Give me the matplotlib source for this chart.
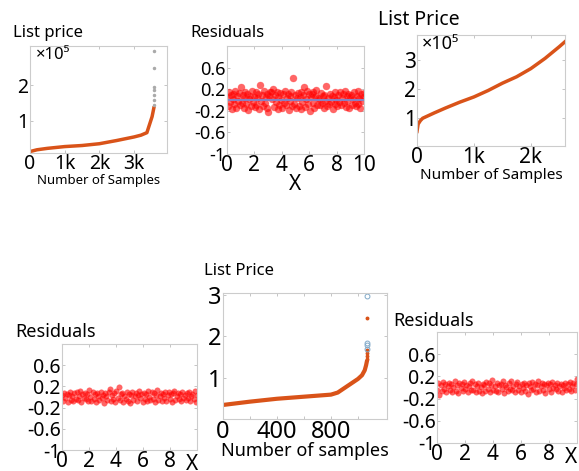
import numpy as np
import matplotlib
matplotlib.use('Agg')
import matplotlib.pyplot as plt

plt.rcParams['font.family'] = ['Noto Sans', 'DejaVu Sans']

# --- data ---
# top-left: sorted list price (x in samples, y in 1e5)
p1_x = [0, 200, 500, 1000, 1500, 2000, 2500, 3000, 3200, 3370, 3460, 3520, 3570]
p1_y = [0.14, 0.19, 0.23, 0.28, 0.31, 0.36, 0.45, 0.55, 0.60, 0.67, 0.94, 1.12, 1.36]
p1_out = [1.44, 1.58, 1.72, 1.86, 1.94, 2.47, 2.97]

# top-right: sorted list price
p3_x = [0, 20, 60, 100, 300, 500, 750, 1000, 1250, 1500, 1750, 2000, 2250, 2500, 2600]
p3_y = [0.55, 0.80, 0.92, 1.00, 1.18, 1.35, 1.55, 1.73, 1.95, 2.20, 2.42, 2.70, 3.05, 3.45, 3.62]

# bottom-middle: sorted list price
p5_x = [0, 200, 400, 600, 800, 850, 900, 950, 1000, 1030, 1050, 1060, 1065]
p5_y = [0.34, 0.42, 0.49, 0.54, 0.59, 0.64, 0.75, 0.86, 0.97, 1.06, 1.18, 1.30, 1.38]
p5_out_orange = [1.45, 1.52, 1.60, 1.68, 2.45]
p5_out_blue = [1.70, 1.78, 1.83, 2.98]

# residuals (top-middle)
res_top = [0.05, -0.12, 0.14, -0.03, 0.09, -0.16, 0.11, 0.02, -0.08, 0.16,
           -0.14, 0.07, -0.01, 0.13, -0.10, 0.25, -0.05, 0.10, -0.15, 0.04,
           0.15, -0.07, 0.12, -0.18, 0.01, 0.08, -0.12, 0.17, -0.04, 0.06,
           -0.13, 0.14, -0.09, 0.03, 0.11, -0.16, 0.28, -0.02, 0.09, -0.11,
           0.16, -0.06, 0.05, -0.14, 0.12, -0.22, 0.07, 0.15, 0.15, 0.02,
           0.20, -0.13, 0.10, -0.03, 0.14, -0.17, 0.06, -0.10, 0.13, 0.00,
           -0.15, 0.11, -0.05, 0.17, -0.09, 0.04, 0.12, -0.19, 0.08, -0.02,
           0.15, -0.12, 0.40, -0.07, 0.10, -0.14, 0.03, 0.13, -0.11, 0.06,
           -0.16, 0.14, -0.04, 0.09, 0.24, -0.13, 0.01, 0.16, -0.08, 0.11,
           -0.21, 0.05, 0.12, -0.06, 0.15, -0.15, 0.08, 0.18, -0.10, 0.04,
           0.02, -0.09, 0.13, -0.05, 0.07, -0.14, 0.10, -0.01, 0.26, -0.11,
           0.04, -0.07, 0.12, -0.03, 0.08, -0.17, 0.06, 0.14, -0.08, 0.00,
           -0.12, 0.09, -0.04, 0.15, -0.10, 0.03, 0.11, -0.06, 0.17, -0.13,
           0.07, -0.02, 0.12, -0.15, 0.05, 0.10, -0.09, 0.01, 0.14, -0.05,
           -0.11, 0.08, 0.16, -0.07, 0.03, -0.14, 0.11, -0.02, 0.06, 0.13]
fit_x = [0, 10]
fit_y = [0, 0]

# residuals (bottom-left)
res_bl = [0.03, -0.07, 0.08, -0.02, 0.06, -0.09, 0.04, 0.10, -0.05, 0.01,
          -0.08, 0.07, -0.03, 0.09, -0.06, 0.02, 0.11, -0.10, 0.05, -0.01,
          0.08, -0.04, 0.06, -0.08, 0.13, 0.00, -0.07, 0.09, -0.03, 0.05,
          -0.09, 0.07, 0.02, -0.06, 0.10, -0.02, 0.04, -0.11, 0.08, 0.01,
          -0.05, 0.09, 0.15, -0.08, 0.03, -0.04, 0.07, -0.09, 0.11, -0.01,
          0.19, -0.06, 0.05, 0.08, -0.10, 0.02, -0.03, 0.09, -0.07, 0.06,
          -0.12, 0.04, 0.10, -0.05, 0.01, 0.07, -0.08, 0.03, 0.12, -0.02,
          0.06, -0.09, 0.08, -0.04, 0.05, -0.07, 0.11, 0.00, -0.06, 0.09,
          -0.03, 0.07, -0.10, 0.04, 0.13, -0.05, 0.02, 0.08, -0.08, 0.06,
          -0.01, 0.10, -0.07, 0.03, 0.09, -0.04, 0.05, -0.09, 0.07, 0.12,
          -0.06, 0.02, 0.08, -0.03, 0.05, -0.08, 0.10, -0.01, 0.04, -0.05,
          0.07, -0.02, 0.09, -0.07, 0.01, 0.06, -0.04, 0.11, -0.09, 0.03]

# residuals (bottom-right)
res_br = [-0.04, 0.08, -0.13, 0.05, -0.07, 0.10, -0.02, 0.06, -0.09, 0.03,
          0.09, -0.05, 0.07, -0.08, 0.01, 0.11, -0.06, 0.04, -0.10, 0.08,
          -0.01, 0.06, -0.07, 0.10, -0.03, 0.05, -0.09, 0.02, 0.08, -0.05,
          0.12, -0.04, 0.07, -0.08, 0.03, 0.09, -0.06, 0.01, -0.10, 0.06,
          0.04, -0.07, 0.10, -0.02, 0.08, -0.09, 0.05, 0.13, -0.04, 0.02,
          -0.06, 0.09, -0.08, 0.04, 0.07, -0.03, 0.11, -0.10, 0.05, 0.01,
          -0.07, 0.08, -0.02, 0.12, -0.05, 0.03, -0.09, 0.06, 0.10, -0.04,
          0.02, -0.08, 0.07, -0.01, 0.09, -0.06, 0.04, -0.11, 0.08, 0.03,
          -0.05, 0.10, -0.03, 0.06, -0.09, 0.05, 0.11, -0.07, 0.02, 0.08,
          -0.04, 0.07, -0.10, 0.04, 0.09, -0.02, 0.06, -0.08, 0.10, 0.00,
          0.05, -0.03, 0.08, -0.06, 0.02, 0.07, -0.09, 0.04, -0.01, 0.09,
          -0.05, 0.06, -0.02, 0.10, -0.07, 0.03, 0.08, -0.04, 0.06, 0.15]

res_yticks = [-1, -0.6, -0.2, 0.2, 0.6]
res_ylabels = ['-1', '-0.6', '-0.2', '0.2', '0.6']

ORANGE = '#D95319'
W, H = 579, 471


def px_axes(fig, l, t, r, b):
    return fig.add_axes([l / W, 1 - b / H, (r - l) / W, (b - t) / H])


def style(ax, fs):
    for s in ax.spines.values():
        s.set_color('#cccccc')
        s.set_linewidth(0.8)
    ax.tick_params(direction='in', length=2.5, width=0.6, color='#bbbbbb',
                   top=True, right=True, labelsize=fs, pad=1)


def residual_panel(ax, res, fs, xfs, ms):
    xs = np.linspace(0, 10, len(res))
    ax.plot(xs, res, 'o', ms=ms, mfc=(1, 0, 0, 0.6), mec=(1, 0.2, 0.2, 0.4), mew=0.5)
    ax.set_ylim(-1, 1)
    ax.set_xlim(0, 10)
    ax.set_yticks(res_yticks)
    ax.set_yticklabels(res_ylabels)
    style(ax, fs)
    ax.tick_params(axis='x', labelsize=xfs)


fig = plt.figure(figsize=(W / 100, H / 100), dpi=100)

# top-left
ax1 = px_axes(fig, 30, 46, 167, 153)
ax1.plot(p1_x, p1_y, '-', color=ORANGE, lw=2.5)
ax1.plot([p1_x[-1]] * len(p1_out), p1_out, 'o', ms=1.5, color='#aaaaaa')
ax1.set_xlim(0, 3950)
ax1.set_ylim(0.1, 3.1)
ax1.set_xticks([0, 1000, 2000, 3000])
ax1.set_xticklabels(['0', '1k', '2k', '3k'])
ax1.set_yticks([1, 2])
style(ax1, 14)
ax1.set_xlabel('Number of Samples', fontsize=9.5, labelpad=0)
ax1.text(0.04, 0.92, '×10⁵', transform=ax1.transAxes, fontsize=12, va='center')
fig.text(13 / W, 1 - 33 / H, 'List price', fontsize=12, va='center')

# top-middle
ax2 = px_axes(fig, 227, 46, 364, 154)
residual_panel(ax2, res_top, 13, 15, 5)
ax2.plot(fit_x, fit_y, '-', color='#8a7fc0', lw=1.5)
ax2.set_xticks([0, 2, 4, 6, 8, 10])
ax2.set_xlabel('X', fontsize=15, labelpad=-2)
fig.text(190 / W, 1 - 33 / H, 'Residuals', fontsize=12, va='center')

# top-right
ax3 = px_axes(fig, 417, 35, 565, 146)
ax3.plot(p3_x, p3_y, '-', color=ORANGE, lw=2.5)
ax3.set_xlim(0, 2600)
ax3.set_ylim(0.05, 3.85)
ax3.set_xticks([0, 1000, 2000])
ax3.set_xticklabels(['0', '1k', '2k'])
ax3.set_yticks([1, 2, 3])
style(ax3, 15)
ax3.set_xlabel('Number of Samples', fontsize=11, labelpad=0)
ax3.text(0.03, 0.92, '×10⁵', transform=ax3.transAxes, fontsize=13, va='center')
fig.text(378 / W, 1 - 20 / H, 'List Price', fontsize=14, va='center')

# bottom-left
ax4 = px_axes(fig, 62, 344, 197, 450)
residual_panel(ax4, res_bl, 14, 15, 4)
ax4.set_xticks([0, 2, 4, 6, 8])
ax4.set_xlabel('X', fontsize=15)
ax4.xaxis.set_label_coords(0.96, -0.04)
ax4.xaxis.label.set_va('top')
fig.text(15 / W, 1 - 332 / H, 'Residuals', fontsize=13, va='center')

# bottom-middle
ax5 = px_axes(fig, 223, 293, 387, 419)
ax5.plot(p5_x, p5_y, '-', color=ORANGE, lw=3)
ax5.plot([p5_x[-1]] * len(p5_out_orange), p5_out_orange, 'o', ms=1.8, color=ORANGE)
ax5.plot([p5_x[-1]] * len(p5_out_blue), p5_out_blue, 'o', ms=3.5, mfc='none',
         mec='#7fa8c8', mew=0.7)
ax5.set_xlim(0, 1215)
ax5.set_ylim(0, 3.05)
ax5.set_xticks([0, 200, 400, 600, 800, 1000])
ax5.set_xticklabels(['0', '', '400', '', '800', ''])
ax5.set_yticks([1, 2, 3])
style(ax5, 17)
ax5.set_xlabel('Number of samples', fontsize=13, labelpad=-2)
fig.text(204 / W, 1 - 271 / H, 'List Price', fontsize=12, va='center')

# bottom-right
ax6 = px_axes(fig, 437, 332, 577, 443)
residual_panel(ax6, res_br, 14, 15, 4)
ax6.set_xticks([0, 2, 4, 6, 8])
ax6.set_xlabel('X', fontsize=15)
ax6.xaxis.set_label_coords(0.96, -0.04)
ax6.xaxis.label.set_va('top')
fig.text(393 / W, 1 - 321 / H, 'Residuals', fontsize=13, va='center')

fig.savefig('out.png', dpi=100)
